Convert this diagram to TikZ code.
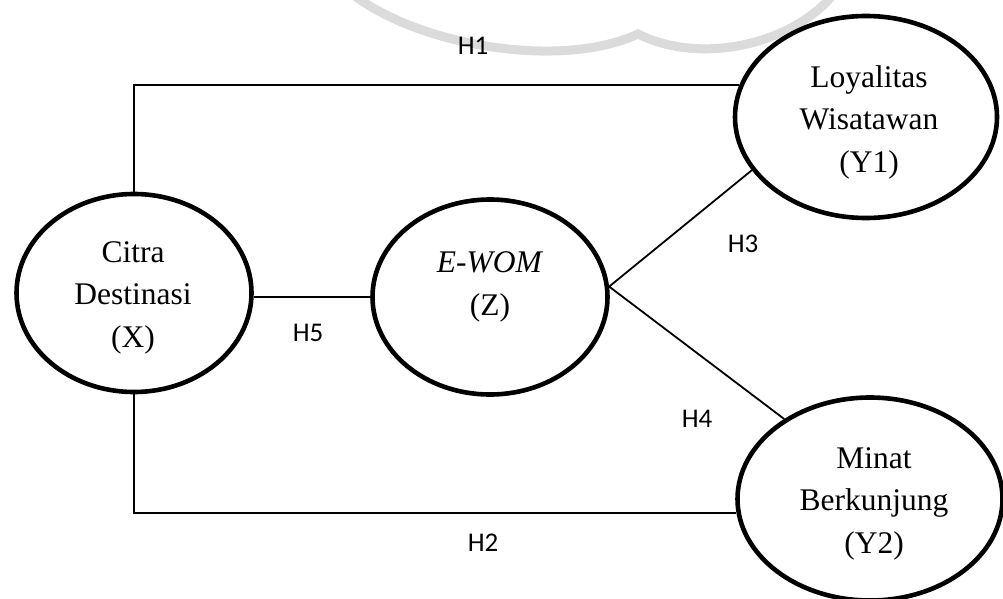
\documentclass[tikz,border=0pt]{standalone}
\usepackage{fontspec}
\setmainfont{Liberation Serif}
\newfontfamily\labfont{Carlito}
\usetikzlibrary{shapes.geometric}
\begin{document}
\begin{tikzpicture}[x=1pt,y=-1pt,
  ell/.style={ellipse, draw, line width=4.6pt, inner sep=0pt},
  txt/.style={font=\fontsize{31.5}{42.5}\selectfont, align=center, inner sep=0pt, anchor=base},
  hlab/.style={font=\labfont\fontsize{27}{32}\selectfont, inner sep=0pt},
  conn/.style={line width=1.8pt},
  wmark/.style={line width=9pt, draw=black!14, line cap=round}]
\useasboundingbox (0,0) rectangle (1003,599);
\fill[white] (0,0) rectangle (1003,599);
% watermark
\draw[wmark] (355,-4) .. controls (420,45) and (560,70) .. (638,34)
  .. controls (700,65) and (790,45) .. (832,-4);
% ellipses
\node[ell, minimum width=235pt, minimum height=198pt] (citra) at (134,293) {};
\node[ell, minimum width=235pt, minimum height=195pt] (ewom) at (490,297) {};
\node[ell, minimum width=262pt, minimum height=202pt] (loy) at (866,117) {};
\node[ell, minimum width=265pt, minimum height=203pt] (minat) at (870,499) {};
% texts (anchored at the baseline of the last line)
\node[txt] (citraT) at (133,347) {Citra\\Destinasi\\(X)};
\node[txt] (ewomT) at (490,315) {\textit{E-WOM}\\(Z)};
\node[txt] (loyT) at (869,172) {Loyalitas\\Wisatawan\\(Y1)};
\node[txt] (minatT) at (874,553) {Minat\\Berkunjung\\(Y2)};
% connectors
\draw[conn] (citra.north) |- (loy.166);
\draw[conn] (citra.east |- ewom.west) -- (ewom.west);
\coordinate (ej) at (ewom.5);
\draw[conn] (ej) -- (loy.205);
\draw[conn] (ej) -- (minat.137);
\draw[conn] (citra.south) |- (minat.186);
% labels
\node[hlab] (h1) at (473,46) {H1};
\node[hlab] (h5) at (308,333) {H5};
\node[hlab] (h2) at (483,543) {H2};
\node[hlab] (h3) at (743,244) {H3};
\node[hlab] (h4) at (697,419) {H4};
\end{tikzpicture}
\end{document}
